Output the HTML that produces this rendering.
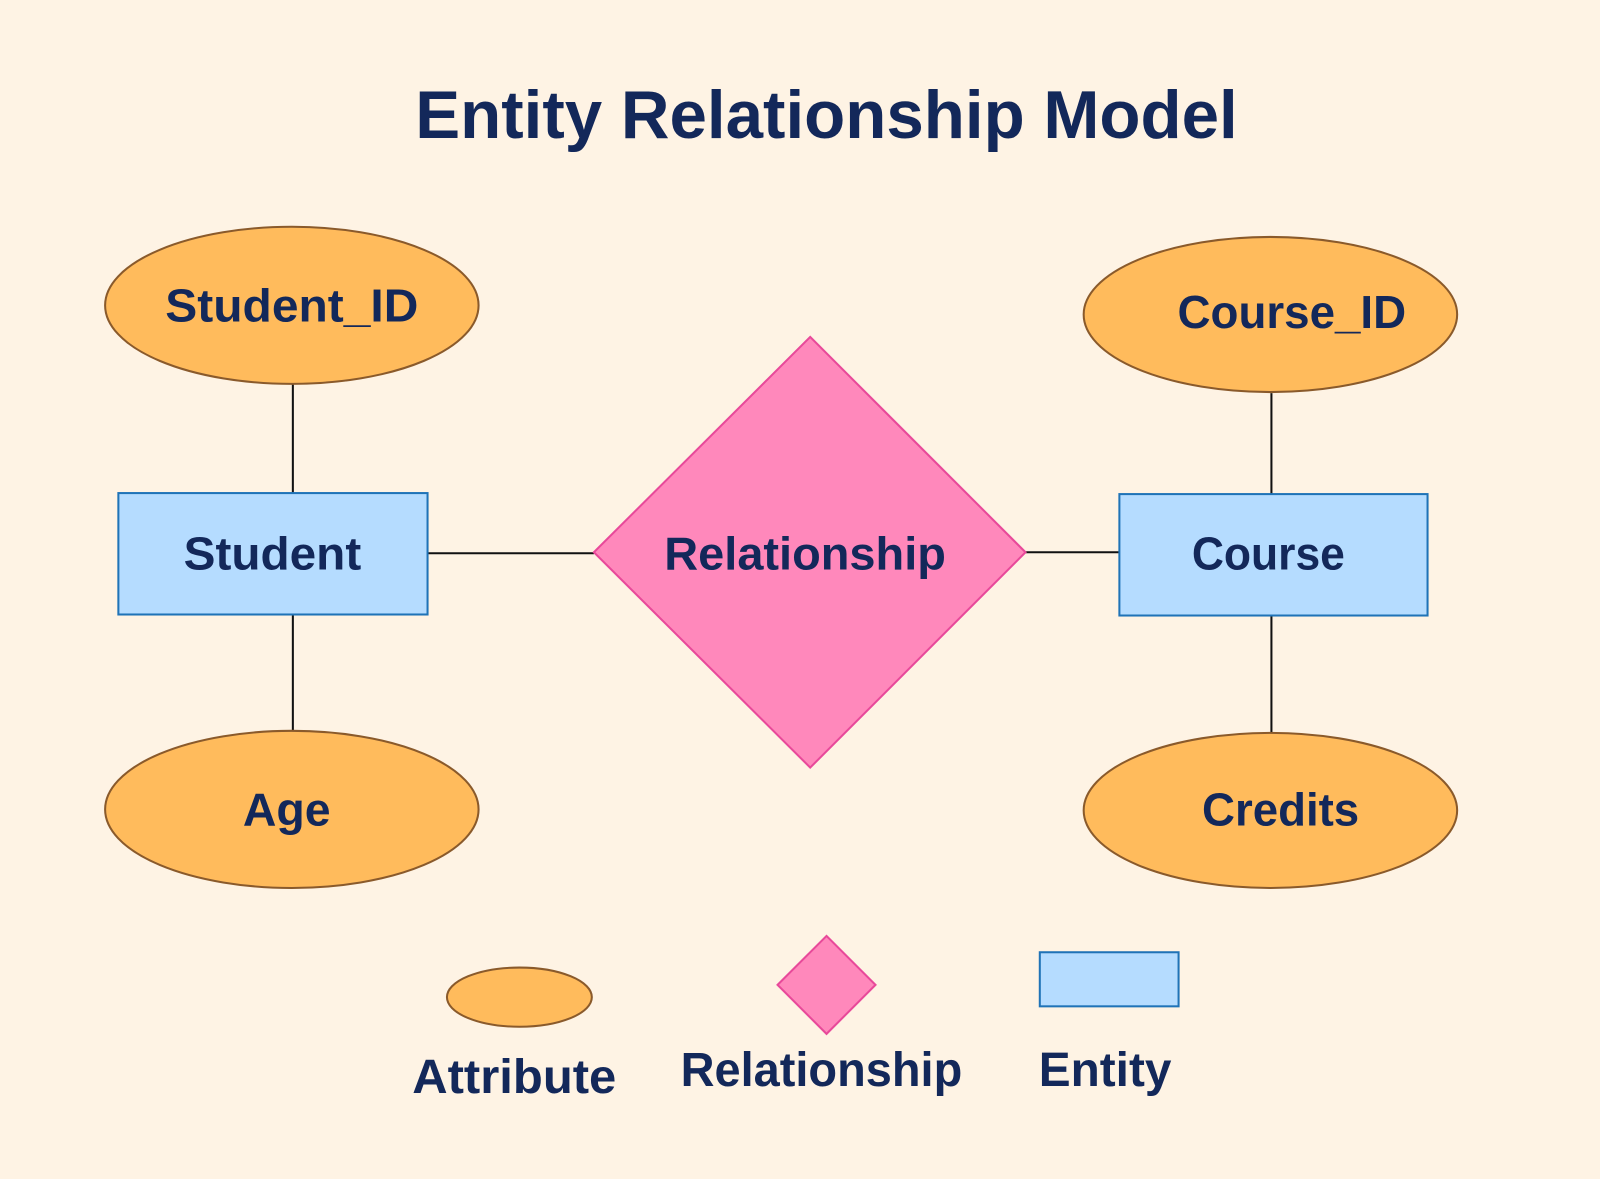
<!DOCTYPE html>
<html><head><meta charset="utf-8"><style>
html,body{margin:0;padding:0;background:#fef3e4;}
svg{display:block;}
text{font-family:"Liberation Sans",sans-serif;font-weight:bold;fill:#13285a;text-anchor:middle;}
</style></head><body>
<svg width="1600" height="1179" viewBox="0 0 1568 1155" xmlns="http://www.w3.org/2000/svg">
<rect width="1568" height="1155" fill="#fef3e4"/>
<text x="810" y="135" font-size="66" textLength="806" lengthAdjust="spacingAndGlyphs">Entity Relationship Model</text>
<g stroke="#111" stroke-width="2">
<line x1="287" y1="376" x2="287" y2="483"/>
<line x1="287" y1="602" x2="287" y2="717"/>
<line x1="419" y1="542" x2="582" y2="542"/>
<line x1="1005" y1="541" x2="1097" y2="541"/>
<line x1="1246" y1="385" x2="1246" y2="484"/>
<line x1="1246" y1="603" x2="1246" y2="718"/>
</g>
<g fill="#ffbb5c" stroke="#8a5a2b" stroke-width="2">
<ellipse cx="286" cy="299" rx="183" ry="77"/>
<ellipse cx="286" cy="793" rx="183" ry="77"/>
<ellipse cx="1245" cy="308" rx="183" ry="76"/>
<ellipse cx="1245" cy="794" rx="183" ry="76"/>
<ellipse cx="509" cy="977" rx="71" ry="29"/>
</g>
<g fill="#b5dcff" stroke="#1f73b7" stroke-width="2">
<rect x="116" y="483" width="303" height="119"/>
<rect x="1097" y="484" width="302" height="119"/>
<rect x="1019" y="933" width="136" height="53"/>
</g>
<g fill="#ff88bb" stroke="#e8499a" stroke-width="2">
<polygon points="582,541 794,330 1005,541 794,752"/>
<polygon points="762,965 810,917 858,965 810,1013"/>
</g>
<g font-size="45">
<text x="286" y="315" textLength="248" lengthAdjust="spacingAndGlyphs">Student_ID</text>
<text x="267" y="558" textLength="174" lengthAdjust="spacingAndGlyphs">Student</text>
<text x="281" y="809" textLength="86" lengthAdjust="spacingAndGlyphs">Age</text>
<text x="789" y="558" textLength="276" lengthAdjust="spacingAndGlyphs">Relationship</text>
<text x="1243" y="558" textLength="150" lengthAdjust="spacingAndGlyphs">Course</text>
<text x="1266" y="321" textLength="224" lengthAdjust="spacingAndGlyphs">Course_ID</text>
<text x="1255" y="809" textLength="154" lengthAdjust="spacingAndGlyphs">Credits</text>
</g>
<g font-size="47">
<text x="504" y="1071" textLength="200" lengthAdjust="spacingAndGlyphs">Attribute</text>
<text x="805" y="1064" textLength="276" lengthAdjust="spacingAndGlyphs">Relationship</text>
<text x="1083" y="1064" textLength="130" lengthAdjust="spacingAndGlyphs">Entity</text>
</g>
</svg>
</body></html>
